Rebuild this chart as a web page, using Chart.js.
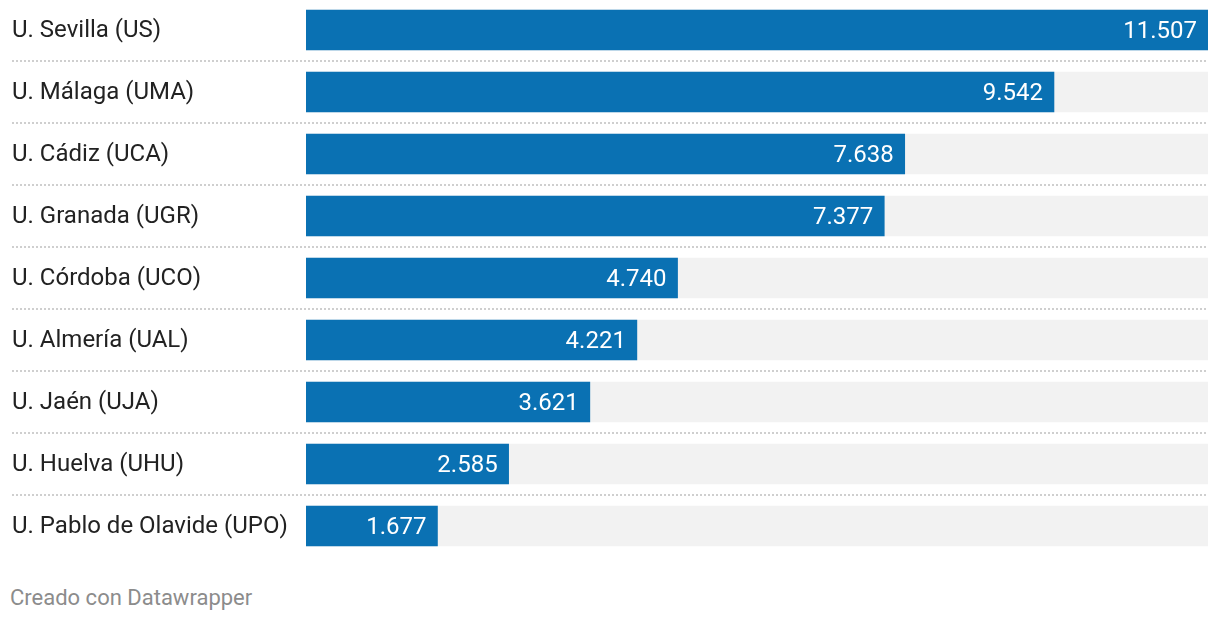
<!DOCTYPE html>
<html>
<head>
<meta charset="utf-8">
<script src="https://cdn.jsdelivr.net/npm/chart.js@4/dist/chart.umd.min.js"></script>
<style>
  html, body { margin: 0; padding: 0; background: #ffffff; }
  body { width: 1220px; height: 622px; position: relative; overflow: hidden; font-family: Roboto, sans-serif; }
  #wrap { position: absolute; left: 0; top: -1px; width: 1220px; height: 558px; }
  #footer { position: absolute; left: 10px; top: 585px; font-size: 22px; line-height: 26px; color: #8c8c8c; font-family: Roboto, sans-serif; }
</style>
</head>
<body>
<div id="wrap"><canvas id="c"></canvas></div>
<div id="footer">Creado con Datawrapper</div>
<script>
const universities = [
  "U. Sevilla (US)",
  "U. Málaga (UMA)",
  "U. Cádiz (UCA)",
  "U. Granada (UGR)",
  "U. Córdoba (UCO)",
  "U. Almería (UAL)",
  "U. Jaén (UJA)",
  "U. Huelva (UHU)",
  "U. Pablo de Olavide (UPO)"
];
const values = [11507, 9542, 7638, 7377, 4740, 4221, 3621, 2585, 1677];
const maxValue = 11507;
const backgroundValues = universities.map(() => maxValue);

function fmt(v) {
  return String(v).replace(/\B(?=(\d{3})+(?!\d))/g, ".");
}

const rowLines = {
  id: 'rowLines',
  beforeDatasetsDraw(chart) {
    const y = chart.scales.y;
    const ctx = chart.ctx;
    ctx.save();
    ctx.strokeStyle = '#cfcfcf';
    ctx.lineWidth = 2;
    ctx.setLineDash([2, 2]);
    for (let i = 0; i < universities.length - 1; i++) {
      const yy = Math.round((y.getPixelForValue(i) + y.getPixelForValue(i + 1)) / 2);
      ctx.beginPath();
      ctx.moveTo(12, yy);
      ctx.lineTo(chart.chartArea.right, yy);
      ctx.stroke();
    }
    ctx.restore();
  }
};

const valueLabels = {
  id: 'valueLabels',
  afterDatasetsDraw(chart) {
    const meta = chart.getDatasetMeta(1);
    const ctx = chart.ctx;
    ctx.save();
    ctx.font = '24px Roboto, sans-serif';
    ctx.fillStyle = '#ffffff';
    ctx.textAlign = 'right';
    ctx.textBaseline = 'middle';
    meta.data.forEach((bar, i) => {
      ctx.fillText(fmt(values[i]), bar.x - 11, bar.y + 2);
    });
    ctx.restore();
  }
};

new Chart(document.getElementById('c'), {
  type: 'bar',
  data: {
    labels: universities,
    datasets: [
      {
        data: backgroundValues,
        backgroundColor: '#f2f2f2',
        barThickness: 40,
        grouped: false,
        order: 2
      },
      {
        data: values,
        backgroundColor: '#0a71b3',
        barThickness: 40,
        grouped: false,
        order: 1
      }
    ]
  },
  options: {
    indexAxis: 'y',
    responsive: true,
    maintainAspectRatio: false,
    animation: false,
    layout: { padding: { left: 12, right: 12, top: 0, bottom: 0 } },
    plugins: { legend: { display: false }, tooltip: { enabled: false } },
    scales: {
      x: { display: false, min: 0, max: maxValue },
      y: {
        grid: { display: false },
        border: { display: false },
        ticks: {
          crossAlign: 'far',
          padding: 0,
          labelOffset: 1,
          color: '#222222',
          font: { family: 'Roboto', size: 24 }
        },
        afterFit(scale) {
          scale.width = 294;
          scale.paddingTop = 0;
          scale.paddingBottom = 0;
        }
      }
    }
  },
  plugins: [rowLines, valueLabels]
});
</script>
</body>
</html>
